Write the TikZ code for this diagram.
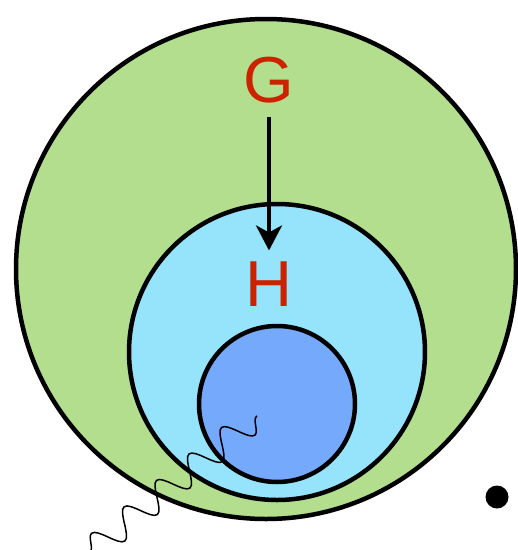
\documentclass[tikz,border=0pt]{standalone}
\usepackage{fontspec}
\setmainfont{Liberation Sans}
\usetikzlibrary{arrows.meta, decorations.pathmorphing}
\definecolor{myGreen}{RGB}{179,222,142}
\definecolor{myCyan}{RGB}{150,227,252}
\definecolor{myBlue}{RGB}{116,169,252}
\definecolor{myRed}{RGB}{204,34,0}

\begin{document}
\begin{tikzpicture}[x=1pt, y=-1pt,
	ring/.style={draw=black, line width=4.5pt},
	letter/.style={font=\fontsize{65}{65}\selectfont, text=myRed, inner sep=0pt}]
	\useasboundingbox (0,0) rectangle (518,550);
	% Outer set
	\filldraw[ring, fill=myGreen] (266,269) circle (250);
	% Middle set
	\filldraw[ring, fill=myCyan] (277,352) circle (148);
	% Inner set
	\filldraw[ring, fill=myBlue] (277,404) circle (78);
	% Labels
	\node[letter] (G) at (269,80) {G};
	\node[letter] (H) at (269,284) {H};
	\draw[-{Stealth[length=25pt, width=26pt, inset=7pt]}, line width=4pt, shorten <=14pt, shorten >=11pt] (G) -- (H);
	% Wiggle
	\coordinate (wstart) at (90,552);
	\coordinate (wend) at (257,416);
	\draw[line width=1.5pt, decorate, decoration={snake, segment length=41.9pt, amplitude=13.5pt}] (wstart) -- (wend);
	% Point
	\fill (497,497) circle (11.5);
\end{tikzpicture}
\end{document}
